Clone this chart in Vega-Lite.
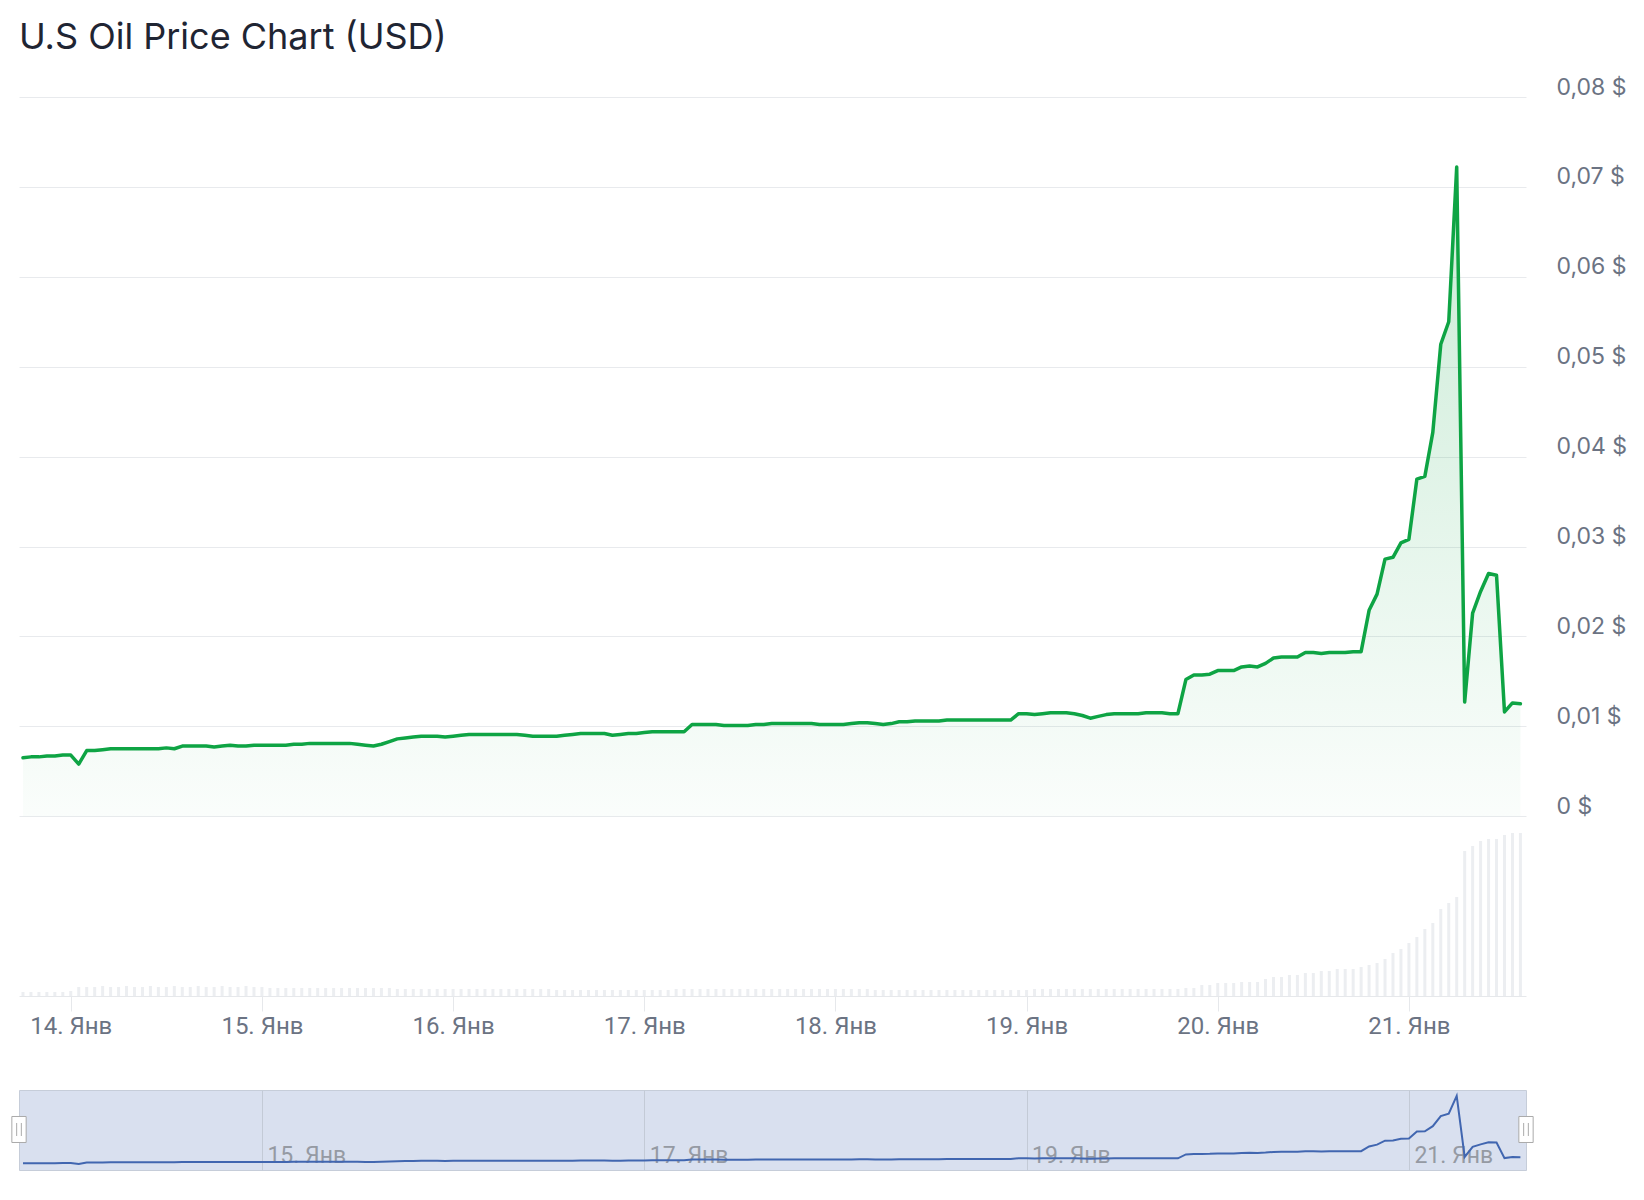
{
  "$schema": "https://vega.github.io/schema/vega-lite/v6.json",
  "background": "#ffffff",
  "autosize": {"type": "pad"},
  "padding": {"left": 9, "top": 20, "right": 5, "bottom": 5},
  "title": {"text": "U.S Oil Price Chart (USD)", "anchor": "start", "frame": "group", "fontSize": 36, "font": "Inter", "fontWeight": 400, "color": "#1f2533", "offset": 19},
  "config": {
    "font": "Inter",
    "view": {"stroke": null}
  },
  "spacing": 51,
  "datasets": {
    "d": [
      {"t": "2025-01-13T18:00", "p": 0.0065, "v": 4},
      {"t": "2025-01-13T19:00", "p": 0.0066, "v": 4},
      {"t": "2025-01-13T20:00", "p": 0.0066, "v": 4},
      {"t": "2025-01-13T21:00", "p": 0.0067, "v": 4},
      {"t": "2025-01-13T22:00", "p": 0.0067, "v": 4},
      {"t": "2025-01-13T23:00", "p": 0.0068, "v": 4},
      {"t": "2025-01-14T00:00", "p": 0.0068, "v": 5},
      {"t": "2025-01-14T01:00", "p": 0.0058, "v": 9},
      {"t": "2025-01-14T02:00", "p": 0.0073, "v": 9},
      {"t": "2025-01-14T03:00", "p": 0.0073, "v": 9},
      {"t": "2025-01-14T04:00", "p": 0.0074, "v": 10},
      {"t": "2025-01-14T05:00", "p": 0.0075, "v": 9},
      {"t": "2025-01-14T06:00", "p": 0.0075, "v": 9},
      {"t": "2025-01-14T07:00", "p": 0.0075, "v": 10},
      {"t": "2025-01-14T08:00", "p": 0.0075, "v": 9},
      {"t": "2025-01-14T09:00", "p": 0.0075, "v": 9},
      {"t": "2025-01-14T10:00", "p": 0.0075, "v": 10},
      {"t": "2025-01-14T11:00", "p": 0.0075, "v": 9},
      {"t": "2025-01-14T12:00", "p": 0.0076, "v": 9},
      {"t": "2025-01-14T13:00", "p": 0.0075, "v": 10},
      {"t": "2025-01-14T14:00", "p": 0.0078, "v": 9},
      {"t": "2025-01-14T15:00", "p": 0.0078, "v": 9},
      {"t": "2025-01-14T16:00", "p": 0.0078, "v": 10},
      {"t": "2025-01-14T17:00", "p": 0.0078, "v": 9},
      {"t": "2025-01-14T18:00", "p": 0.0077, "v": 9},
      {"t": "2025-01-14T19:00", "p": 0.0078, "v": 10},
      {"t": "2025-01-14T20:00", "p": 0.0079, "v": 9},
      {"t": "2025-01-14T21:00", "p": 0.0078, "v": 9},
      {"t": "2025-01-14T22:00", "p": 0.0078, "v": 10},
      {"t": "2025-01-14T23:00", "p": 0.0079, "v": 9},
      {"t": "2025-01-15T00:00", "p": 0.0079, "v": 9},
      {"t": "2025-01-15T01:00", "p": 0.0079, "v": 8},
      {"t": "2025-01-15T02:00", "p": 0.0079, "v": 8},
      {"t": "2025-01-15T03:00", "p": 0.0079, "v": 8},
      {"t": "2025-01-15T04:00", "p": 0.0080, "v": 8},
      {"t": "2025-01-15T05:00", "p": 0.0080, "v": 8},
      {"t": "2025-01-15T06:00", "p": 0.0081, "v": 8},
      {"t": "2025-01-15T07:00", "p": 0.0081, "v": 8},
      {"t": "2025-01-15T08:00", "p": 0.0081, "v": 8},
      {"t": "2025-01-15T09:00", "p": 0.0081, "v": 8},
      {"t": "2025-01-15T10:00", "p": 0.0081, "v": 8},
      {"t": "2025-01-15T11:00", "p": 0.0081, "v": 8},
      {"t": "2025-01-15T12:00", "p": 0.0080, "v": 8},
      {"t": "2025-01-15T13:00", "p": 0.0079, "v": 8},
      {"t": "2025-01-15T14:00", "p": 0.0078, "v": 8},
      {"t": "2025-01-15T15:00", "p": 0.0080, "v": 8},
      {"t": "2025-01-15T16:00", "p": 0.0083, "v": 8},
      {"t": "2025-01-15T17:00", "p": 0.0086, "v": 7},
      {"t": "2025-01-15T18:00", "p": 0.0087, "v": 7},
      {"t": "2025-01-15T19:00", "p": 0.0088, "v": 7},
      {"t": "2025-01-15T20:00", "p": 0.0089, "v": 7},
      {"t": "2025-01-15T21:00", "p": 0.0089, "v": 7},
      {"t": "2025-01-15T22:00", "p": 0.0089, "v": 7},
      {"t": "2025-01-15T23:00", "p": 0.0088, "v": 7},
      {"t": "2025-01-16T00:00", "p": 0.0089, "v": 7},
      {"t": "2025-01-16T01:00", "p": 0.0090, "v": 7},
      {"t": "2025-01-16T02:00", "p": 0.0091, "v": 7},
      {"t": "2025-01-16T03:00", "p": 0.0091, "v": 7},
      {"t": "2025-01-16T04:00", "p": 0.0091, "v": 7},
      {"t": "2025-01-16T05:00", "p": 0.0091, "v": 7},
      {"t": "2025-01-16T06:00", "p": 0.0091, "v": 7},
      {"t": "2025-01-16T07:00", "p": 0.0091, "v": 7},
      {"t": "2025-01-16T08:00", "p": 0.0091, "v": 7},
      {"t": "2025-01-16T09:00", "p": 0.0090, "v": 7},
      {"t": "2025-01-16T10:00", "p": 0.0089, "v": 7},
      {"t": "2025-01-16T11:00", "p": 0.0089, "v": 7},
      {"t": "2025-01-16T12:00", "p": 0.0089, "v": 7},
      {"t": "2025-01-16T13:00", "p": 0.0089, "v": 6},
      {"t": "2025-01-16T14:00", "p": 0.0090, "v": 6},
      {"t": "2025-01-16T15:00", "p": 0.0091, "v": 6},
      {"t": "2025-01-16T16:00", "p": 0.0092, "v": 6},
      {"t": "2025-01-16T17:00", "p": 0.0092, "v": 6},
      {"t": "2025-01-16T18:00", "p": 0.0092, "v": 6},
      {"t": "2025-01-16T19:00", "p": 0.0092, "v": 6},
      {"t": "2025-01-16T20:00", "p": 0.0090, "v": 6},
      {"t": "2025-01-16T21:00", "p": 0.0091, "v": 6},
      {"t": "2025-01-16T22:00", "p": 0.0092, "v": 6},
      {"t": "2025-01-16T23:00", "p": 0.0092, "v": 6},
      {"t": "2025-01-17T00:00", "p": 0.0093, "v": 6},
      {"t": "2025-01-17T01:00", "p": 0.0094, "v": 6},
      {"t": "2025-01-17T02:00", "p": 0.0094, "v": 6},
      {"t": "2025-01-17T03:00", "p": 0.0094, "v": 6},
      {"t": "2025-01-17T04:00", "p": 0.0094, "v": 7},
      {"t": "2025-01-17T05:00", "p": 0.0094, "v": 7},
      {"t": "2025-01-17T06:00", "p": 0.0102, "v": 7},
      {"t": "2025-01-17T07:00", "p": 0.0102, "v": 7},
      {"t": "2025-01-17T08:00", "p": 0.0102, "v": 7},
      {"t": "2025-01-17T09:00", "p": 0.0102, "v": 7},
      {"t": "2025-01-17T10:00", "p": 0.0101, "v": 7},
      {"t": "2025-01-17T11:00", "p": 0.0101, "v": 7},
      {"t": "2025-01-17T12:00", "p": 0.0101, "v": 7},
      {"t": "2025-01-17T13:00", "p": 0.0101, "v": 7},
      {"t": "2025-01-17T14:00", "p": 0.0102, "v": 7},
      {"t": "2025-01-17T15:00", "p": 0.0102, "v": 7},
      {"t": "2025-01-17T16:00", "p": 0.0103, "v": 7},
      {"t": "2025-01-17T17:00", "p": 0.0103, "v": 7},
      {"t": "2025-01-17T18:00", "p": 0.0103, "v": 7},
      {"t": "2025-01-17T19:00", "p": 0.0103, "v": 7},
      {"t": "2025-01-17T20:00", "p": 0.0103, "v": 7},
      {"t": "2025-01-17T21:00", "p": 0.0103, "v": 7},
      {"t": "2025-01-17T22:00", "p": 0.0102, "v": 7},
      {"t": "2025-01-17T23:00", "p": 0.0102, "v": 7},
      {"t": "2025-01-18T00:00", "p": 0.0102, "v": 7},
      {"t": "2025-01-18T01:00", "p": 0.0102, "v": 7},
      {"t": "2025-01-18T02:00", "p": 0.0103, "v": 7},
      {"t": "2025-01-18T03:00", "p": 0.0104, "v": 7},
      {"t": "2025-01-18T04:00", "p": 0.0104, "v": 7},
      {"t": "2025-01-18T05:00", "p": 0.0103, "v": 6},
      {"t": "2025-01-18T06:00", "p": 0.0102, "v": 6},
      {"t": "2025-01-18T07:00", "p": 0.0103, "v": 6},
      {"t": "2025-01-18T08:00", "p": 0.0105, "v": 6},
      {"t": "2025-01-18T09:00", "p": 0.0105, "v": 6},
      {"t": "2025-01-18T10:00", "p": 0.0106, "v": 6},
      {"t": "2025-01-18T11:00", "p": 0.0106, "v": 6},
      {"t": "2025-01-18T12:00", "p": 0.0106, "v": 6},
      {"t": "2025-01-18T13:00", "p": 0.0106, "v": 6},
      {"t": "2025-01-18T14:00", "p": 0.0107, "v": 6},
      {"t": "2025-01-18T15:00", "p": 0.0107, "v": 6},
      {"t": "2025-01-18T16:00", "p": 0.0107, "v": 6},
      {"t": "2025-01-18T17:00", "p": 0.0107, "v": 6},
      {"t": "2025-01-18T18:00", "p": 0.0107, "v": 6},
      {"t": "2025-01-18T19:00", "p": 0.0107, "v": 6},
      {"t": "2025-01-18T20:00", "p": 0.0107, "v": 6},
      {"t": "2025-01-18T21:00", "p": 0.0107, "v": 6},
      {"t": "2025-01-18T22:00", "p": 0.0107, "v": 6},
      {"t": "2025-01-18T23:00", "p": 0.0114, "v": 6},
      {"t": "2025-01-19T00:00", "p": 0.0114, "v": 6},
      {"t": "2025-01-19T01:00", "p": 0.0113, "v": 7},
      {"t": "2025-01-19T02:00", "p": 0.0114, "v": 7},
      {"t": "2025-01-19T03:00", "p": 0.0115, "v": 7},
      {"t": "2025-01-19T04:00", "p": 0.0115, "v": 7},
      {"t": "2025-01-19T05:00", "p": 0.0115, "v": 7},
      {"t": "2025-01-19T06:00", "p": 0.0114, "v": 7},
      {"t": "2025-01-19T07:00", "p": 0.0112, "v": 7},
      {"t": "2025-01-19T08:00", "p": 0.0109, "v": 7},
      {"t": "2025-01-19T09:00", "p": 0.0111, "v": 7},
      {"t": "2025-01-19T10:00", "p": 0.0113, "v": 7},
      {"t": "2025-01-19T11:00", "p": 0.0114, "v": 7},
      {"t": "2025-01-19T12:00", "p": 0.0114, "v": 7},
      {"t": "2025-01-19T13:00", "p": 0.0114, "v": 7},
      {"t": "2025-01-19T14:00", "p": 0.0114, "v": 7},
      {"t": "2025-01-19T15:00", "p": 0.0115, "v": 7},
      {"t": "2025-01-19T16:00", "p": 0.0115, "v": 7},
      {"t": "2025-01-19T17:00", "p": 0.0115, "v": 7},
      {"t": "2025-01-19T18:00", "p": 0.0114, "v": 7},
      {"t": "2025-01-19T19:00", "p": 0.0114, "v": 7},
      {"t": "2025-01-19T20:00", "p": 0.0152, "v": 8},
      {"t": "2025-01-19T21:00", "p": 0.0157, "v": 8},
      {"t": "2025-01-19T22:00", "p": 0.0157, "v": 11},
      {"t": "2025-01-19T23:00", "p": 0.0158, "v": 11},
      {"t": "2025-01-20T00:00", "p": 0.0162, "v": 13},
      {"t": "2025-01-20T01:00", "p": 0.0162, "v": 13},
      {"t": "2025-01-20T02:00", "p": 0.0162, "v": 13},
      {"t": "2025-01-20T03:00", "p": 0.0166, "v": 14},
      {"t": "2025-01-20T04:00", "p": 0.0167, "v": 14},
      {"t": "2025-01-20T05:00", "p": 0.0166, "v": 14},
      {"t": "2025-01-20T06:00", "p": 0.0170, "v": 17},
      {"t": "2025-01-20T07:00", "p": 0.0176, "v": 19},
      {"t": "2025-01-20T08:00", "p": 0.0177, "v": 19},
      {"t": "2025-01-20T09:00", "p": 0.0177, "v": 21},
      {"t": "2025-01-20T10:00", "p": 0.0177, "v": 21},
      {"t": "2025-01-20T11:00", "p": 0.0182, "v": 23},
      {"t": "2025-01-20T12:00", "p": 0.0182, "v": 23},
      {"t": "2025-01-20T13:00", "p": 0.0181, "v": 25},
      {"t": "2025-01-20T14:00", "p": 0.0182, "v": 25},
      {"t": "2025-01-20T15:00", "p": 0.0182, "v": 27},
      {"t": "2025-01-20T16:00", "p": 0.0182, "v": 27},
      {"t": "2025-01-20T17:00", "p": 0.0183, "v": 27},
      {"t": "2025-01-20T18:00", "p": 0.0183, "v": 29},
      {"t": "2025-01-20T19:00", "p": 0.0229, "v": 31},
      {"t": "2025-01-20T20:00", "p": 0.0247, "v": 33},
      {"t": "2025-01-20T21:00", "p": 0.0286, "v": 37},
      {"t": "2025-01-20T22:00", "p": 0.0288, "v": 43},
      {"t": "2025-01-20T23:00", "p": 0.0304, "v": 47},
      {"t": "2025-01-21T00:00", "p": 0.0308, "v": 53},
      {"t": "2025-01-21T01:00", "p": 0.0375, "v": 59},
      {"t": "2025-01-21T02:00", "p": 0.0378, "v": 67},
      {"t": "2025-01-21T03:00", "p": 0.0427, "v": 73},
      {"t": "2025-01-21T04:00", "p": 0.0525, "v": 87},
      {"t": "2025-01-21T05:00", "p": 0.0550, "v": 93},
      {"t": "2025-01-21T06:00", "p": 0.0722, "v": 99},
      {"t": "2025-01-21T07:00", "p": 0.0127, "v": 145},
      {"t": "2025-01-21T08:00", "p": 0.0226, "v": 150},
      {"t": "2025-01-21T09:00", "p": 0.0250, "v": 155},
      {"t": "2025-01-21T10:00", "p": 0.0270, "v": 157},
      {"t": "2025-01-21T11:00", "p": 0.0268, "v": 157},
      {"t": "2025-01-21T12:00", "p": 0.0116, "v": 161},
      {"t": "2025-01-21T13:00", "p": 0.0126, "v": 163},
      {"t": "2025-01-21T14:00", "p": 0.0125, "v": 163}
    ]
  },
  "data": {"name": "d"},
  "vconcat": [
    {
      "width": 1507,
      "height": 899,
      "encoding": {
        "x": {
          "field": "t", "type": "temporal",
          "scale": {"domain": [{"year": 2025, "month": 1, "date": 13, "hours": 17, "minutes": 30}, {"year": 2025, "month": 1, "date": 21, "hours": 14, "minutes": 42}], "padding": 0, "nice": false},
          "axis": {
            "title": null, "grid": false,
            "tickCount": {"interval": "day", "step": 1},
            "labelExpr": "timeFormat(datum.value, '%-d') + '. Янв'",
            "labelFont": "Roboto", "labelFontSize": 24, "labelColor": "#6b7383",
            "labelPadding": 3, "labelFlush": false, "labelOverlap": false,
            "domainColor": "#e6e8eb", "tickColor": "#e6e8eb", "tickSize": 15
          }
        }
      },
      "layer": [
        {
          "mark": {"type": "bar", "width": 3, "color": "#eceef1"},
          "encoding": {
            "y": {"field": "v", "type": "quantitative", "scale": {"domain": [0, 899], "nice": false}, "axis": null}
          }
        },
        {
          "encoding": {
            "y": {
              "field": "p", "type": "quantitative",
              "scale": {"domain": [-0.02, 0.08], "nice": false, "zero": false},
              "axis": {
                "orient": "right", "title": null,
                "values": [0, 0.01, 0.02, 0.03, 0.04, 0.05, 0.06, 0.07, 0.08],
                "labelExpr": "datum.value == 0 ? '0 $' : replace(format(datum.value, '.2f'), '.', ',') + ' $'",
                "grid": true, "gridColor": "#e8eaed", "gridWidth": 1,
                "domain": false, "ticks": false,
                "labelFont": "Inter", "labelFontSize": 23, "labelColor": "#6b7383",
                "labelAlign": "left", "labelPadding": 30, "labelOffset": -10, "labelBaseline": "middle"
              }
            }
          },
          "layer": [
            {
              "mark": {
                "type": "area",
                "fill": {"gradient": "linear", "x1": 0, "y1": 0, "x2": 0, "y2": 1,
                  "stops": [{"offset": 0, "color": "rgba(14,164,68,0.22)"}, {"offset": 1, "color": "rgba(14,164,68,0.02)"}]}
              },
              "encoding": {"y2": {"datum": 0}}
            },
            {
              "mark": {"type": "line", "color": "#0ea444", "strokeWidth": 3.5, "strokeJoin": "round", "strokeCap": "round"}
            }
          ]
        }
      ],
      "resolve": {"scale": {"y": "independent"}, "axis": {"y": "independent"}}
    },
    {
      "width": 1507,
      "height": 80,
      "view": {"fill": "#d9e0ef", "stroke": "#c6cdd9"},
      "encoding": {
        "x": {
          "field": "t", "type": "temporal",
          "scale": {"domain": [{"year": 2025, "month": 1, "date": 13, "hours": 17, "minutes": 30}, {"year": 2025, "month": 1, "date": 21, "hours": 14, "minutes": 42}], "padding": 0, "nice": false},
          "axis": {
            "title": null, "grid": true, "gridColor": "#c3cad6",
            "values": [{"year": 2025, "month": 1, "date": 15}, {"year": 2025, "month": 1, "date": 17}, {"year": 2025, "month": 1, "date": 19}, {"year": 2025, "month": 1, "date": 21}],
            "labelExpr": "timeFormat(datum.value, '%-d') + '. Янв'",
            "labelFont": "Roboto", "labelFontSize": 23, "labelColor": "#959aa3",
            "domain": false, "ticks": false, "tickSize": 0,
            "labelAlign": "left", "labelBaseline": "alphabetic", "labelOffset": 5, "labelPadding": -8,
            "labelFlush": false, "labelOverlap": false
          }
        }
      },
      "layer": [
        {
          "mark": {"type": "line", "color": "#4166b0", "strokeWidth": 2},
          "encoding": {"y": {"field": "p", "type": "quantitative", "scale": {"domain": [0, 0.078], "nice": false}, "axis": null}}
        },
        {
          "data": {"values": [{"t": "2025-01-13T17:30", "p": 0.0395}, {"t": "2025-01-21T14:42", "p": 0.0395}]},
          "mark": {"type": "point", "shape": "M-0.55,-1H0.55V1H-0.55Z", "size": 676, "filled": true, "fill": "#ffffff", "stroke": "#aaaaaa", "strokeWidth": 1, "opacity": 1},
          "encoding": {"y": {"field": "p", "type": "quantitative"}}
        },
        {
          "data": {"values": [{"t": "2025-01-13T17:30", "p": 0.0395}, {"t": "2025-01-21T14:42", "p": 0.0395}]},
          "mark": {"type": "point", "shape": "M-0.18,-0.5V0.5M0.18,-0.5V0.5", "size": 676, "filled": false, "stroke": "#aaaaaa", "strokeWidth": 1, "opacity": 1},
          "encoding": {"y": {"field": "p", "type": "quantitative"}}
        }
      ]
    }
  ]
}
